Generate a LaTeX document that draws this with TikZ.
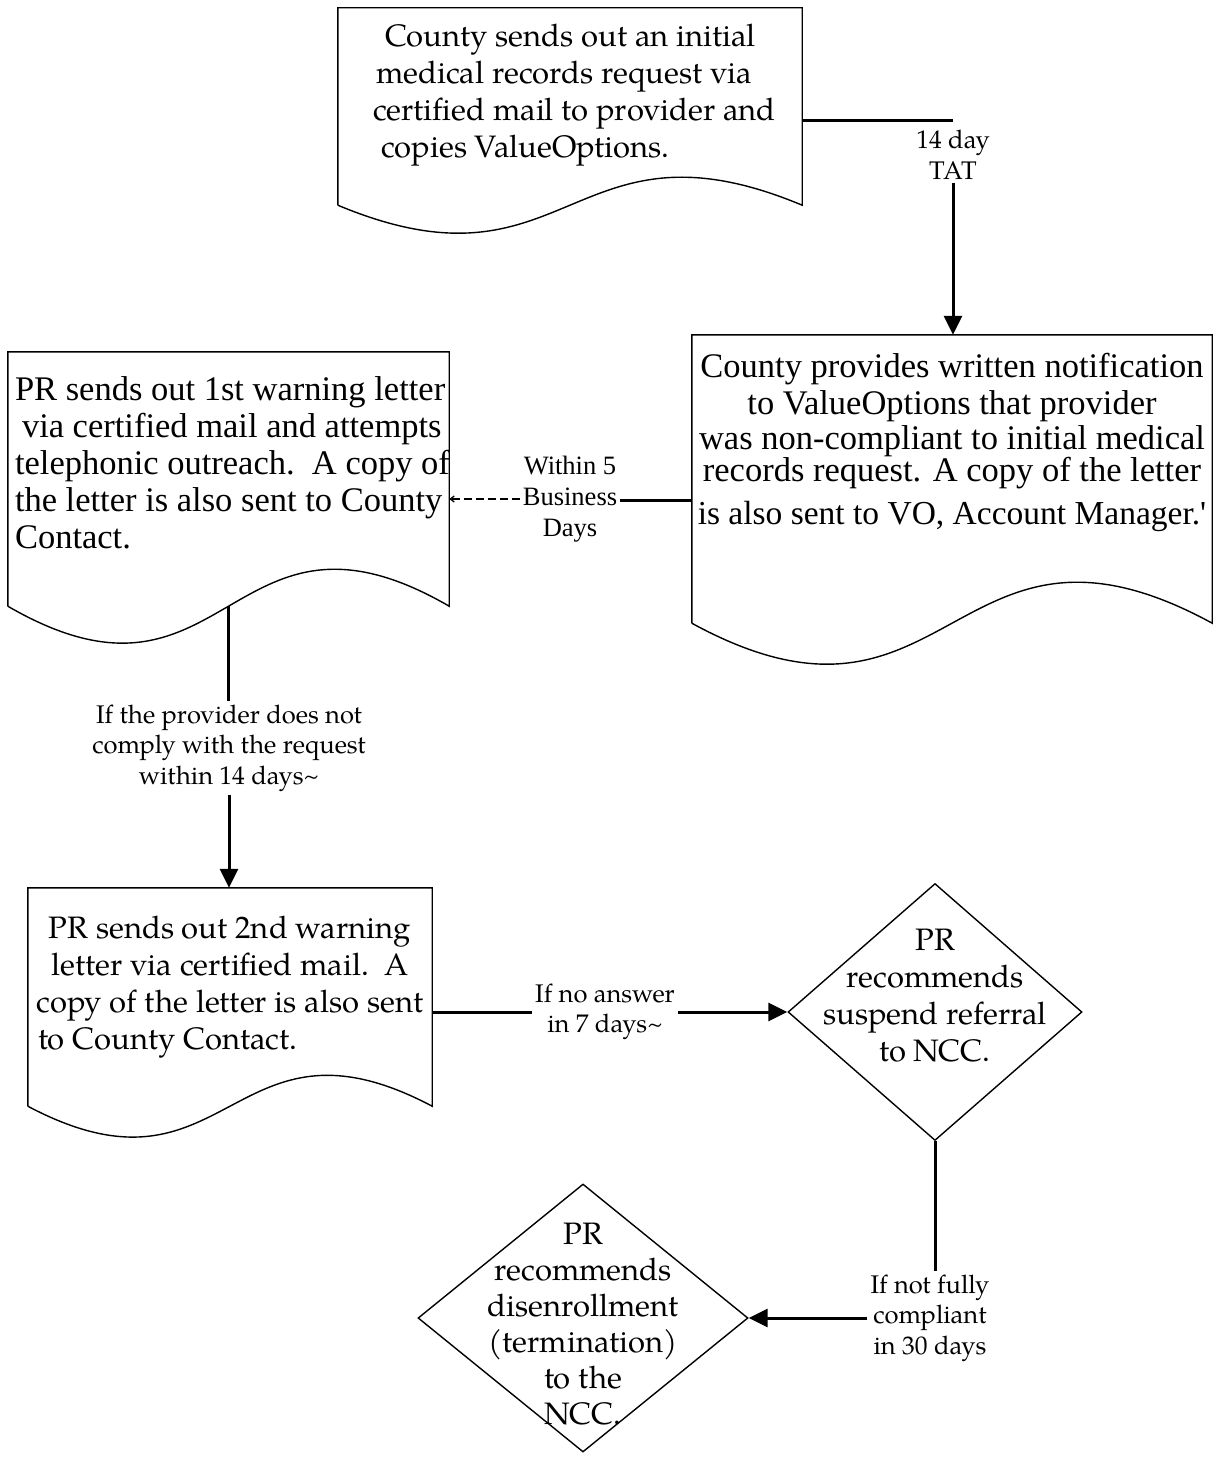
\documentclass[tikz,border=0pt]{standalone}
\usepackage{fontspec}
\setmainfont{TeX Gyre Pagella}
\newfontfamily\timesfont{Liberation Serif}
\usepackage{tikz}
\usetikzlibrary{calc, positioning, arrows.meta, shapes.geometric}

\newcommand{\doctext}[3]{\parbox[c][#2][t]{#1}{#3}}
\newcommand{\dtext}[3]{\makebox[0pt]{\raisebox{#1}[0pt][0pt]{\parbox[c]{#2}{\centering #3}}}}
\newcommand{\docoutline}[2]{%
  \draw[docline] (#1.south west) -- (#1.north west) -- (#1.north east) -- (#1.south east)
    .. controls ($(#1.south west)!0.5!(#1.south east)+(0,-#2)$)
    and ($(#1.south west)!0.5!(#1.south east)+(0,#2)$) .. (#1.south west);}

\begin{document}
\begin{tikzpicture}[
  x=1pt, y=-1pt,
  docbox/.style={inner sep=0pt},
  docline/.style={line width=1.4pt},
  decision/.style={diamond, draw, line width=1.4pt, inner sep=0pt, font=\fontsize{31}{37}\selectfont},
  lbl/.style={align=center, inner sep=3pt, font=\fontsize{25.5}{30.5}\selectfont},
  link/.style={line width=3pt},
  arr/.style={line width=3pt, -{Triangle[length=19pt, width=18pt]}},
  dasharr/.style={line width=1.3pt, dash pattern=on 8pt off 4pt, -{Straight Barb[length=4pt, width=6pt]}}
]
\useasboundingbox (0,0) rectangle (1218,1458);

\node (request) [docbox] at (570,106.5) {\doctext{464pt}{197pt}{\fontsize{31}{37}\selectfont\raggedright
  \hspace*{47pt}\mbox{\rule{0pt}{39pt}County sends out an initial}\\
  \hspace*{38pt}\mbox{medical records request via}\\
  \hspace*{35pt}\mbox{certified mail to provider and}\\
  \hspace*{43pt}\mbox{copies ValueOptions.}}};

\node (notify) [docbox] at (952,479) {\doctext{520pt}{288pt}{\timesfont\fontsize{34.5}{37}\selectfont\centering
  \mbox{\rule{0pt}{42pt}County provides written notification}\\
  \mbox{to ValueOptions that provider}\\[-2pt]
  \mbox{was non-compliant to initial medical}\\[-5pt]
  \mbox{records request. A copy of the letter}\\[6pt]
  \mbox{\fontsize{33.5}{37}\selectfont is also sent to VO, Account Manager.'}}};

\node (firstwarn) [docbox] at (228.5,479) {\doctext{441pt}{254pt}{\timesfont\fontsize{34.5}{37}\selectfont\raggedright
  \hspace*{7pt}\mbox{\rule{0pt}{48pt}PR sends out 1st warning letter}\\
  \hspace*{14pt}\mbox{via certified mail and attempts}\\
  \hspace*{7pt}\mbox{telephonic outreach.\ \ A copy of}\\
  \hspace*{7pt}\mbox{the letter is also sent to County}\\
  \hspace*{7pt}\mbox{Contact.}}};

\node (secondwarn) [docbox] at (230,997) {\doctext{404pt}{218pt}{\fontsize{31}{37}\selectfont\centering
  \mbox{\rule{0pt}{50pt}PR sends out 2nd warning}\\
  \mbox{letter via certified mail.\ \ A}\\
  \mbox{copy of the letter is also sent}\\
  \makebox[\linewidth][l]{\hspace*{10pt}to County Contact.}}};

\node (suspend) [decision, minimum width=294pt, minimum height=257pt] at (935,1012)
  {\dtext{10pt}{260pt}{PR\\recommends\\suspend referral\\to NCC.}};
\node (disenroll) [decision, minimum width=330pt, minimum height=268pt, font=\fontsize{31}{36}\selectfont] at (583,1318)
  {\dtext{-12pt}{300pt}{PR\\recommends\\disenrollment\\(termination)\\to the\\NCC.}};

\node (tat) [lbl] at (953,155) {14 day\\TAT};
\node (days) [lbl, font=\timesfont\fontsize{26.5}{31}\selectfont] at (570,499) {Within 5\\Business\\Days};
\node (comply) [lbl] at (229,748) {If the provider does not\\comply with the request\\within 14 days\textasciitilde};
\node (noanswer) [lbl] at (605,1012) {If no answer\\in 7 days\textasciitilde};
\node (notfull) [lbl] at (930,1318) {If not fully\\compliant\\in 30 days};

\docoutline{request}{97}
\docoutline{firstwarn}{128}
\docoutline{notify}{142}
\docoutline{secondwarn}{107}

\draw[link] ([yshift=-14.5pt]request.east) -- ([yshift=-14.5pt]request.east -| tat);
\draw[arr] (tat.south) -- (tat.south |- notify.north);
\draw[link] ([yshift=-21pt]notify.west) -- ([yshift=-21pt]notify.west -| days.east);
\draw[dasharr] (days.west) -- (days.west -| firstwarn.east);
\draw[link] (firstwarn.south) -- (firstwarn.south |- comply.north);
\draw[arr] (comply.south) -- (comply.south |- secondwarn.north);
\draw[link] ([yshift=-15pt]secondwarn.east) -- (noanswer.west);
\draw[arr] (noanswer.east) -- (suspend.west);
\draw[link] (suspend.south) -- (suspend.south |- notfull.north);
\draw[arr] (notfull.west) -- (disenroll.east);
\end{tikzpicture}
\end{document}
